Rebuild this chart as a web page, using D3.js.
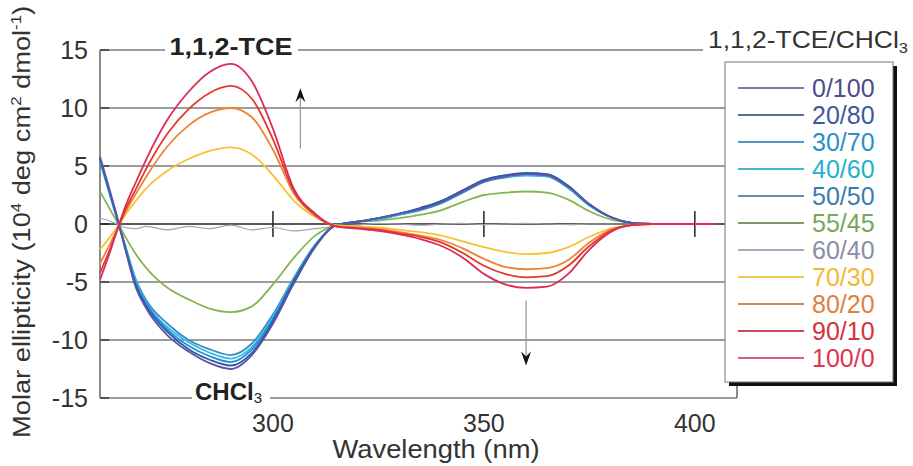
<!DOCTYPE html>
<html>
<head>
<meta charset="utf-8">
<script src="https://cdn.jsdelivr.net/npm/d3@7"></script>
<style>
  body { margin: 0; background: #fff; }
  svg { font-family: "Liberation Sans", Arial, Helvetica, sans-serif; }
</style>
</head>
<body>
<svg id="chart" width="913" height="466"></svg>
<script>
// wavelengths (nm)
const wavelengths = [259, 261, 263, 265, 267.5, 270, 275, 280, 285, 290, 295, 300, 305, 310, 315, 320, 325, 330,
  335, 340, 345, 350, 355, 360, 365, 370, 375, 380, 385, 390, 395, 400, 405];

// molar ellipticity (10^4 deg cm2 dmol-1), one list per 1,1,2-TCE/CHCl3 ratio
const s0_100  = [5.8, 3.3, 0.7, -2.2, -5.5, -7.3, -9.6, -11.0, -12.0, -12.5, -11.3, -8.6, -5.1, -2.0, -0.1, 0.2, 0.5, 0.9, 1.3, 1.9, 2.8, 3.7, 4.1, 4.3, 4.2, 3.2, 1.7, 0.6, 0.1, 0, 0, 0, 0];
const s20_80  = [5.7, 3.2, 0.6, -2.1, -5.3, -7.1, -9.3, -10.8, -11.7, -12.2, -11.1, -8.4, -4.9, -1.9, -0.1, 0.2, 0.5, 0.9, 1.4, 2.0, 2.9, 3.8, 4.2, 4.4, 4.3, 3.3, 1.7, 0.6, 0.1, 0, 0, 0, 0];
const s30_70  = [5.6, 3.1, 0.6, -2.0, -5.1, -6.9, -9.1, -10.5, -11.4, -11.9, -10.8, -8.2, -4.8, -1.9, -0.1, 0.2, 0.5, 0.9, 1.3, 2.0, 2.9, 3.7, 4.2, 4.3, 4.2, 3.2, 1.7, 0.6, 0.1, 0, 0, 0, 0];
const s40_60  = [5.5, 3.0, 0.5, -1.9, -4.9, -6.8, -8.9, -10.2, -11.1, -11.6, -10.6, -8.0, -4.7, -1.8, -0.1, 0.2, 0.4, 0.8, 1.3, 1.9, 2.8, 3.7, 4.1, 4.2, 4.1, 3.1, 1.6, 0.6, 0.1, 0, 0, 0, 0];
const s50_50  = [5.4, 2.9, 0.5, -1.9, -4.8, -6.6, -8.6, -10.0, -10.8, -11.3, -10.3, -7.8, -4.6, -1.8, -0.1, 0.2, 0.4, 0.8, 1.2, 1.8, 2.7, 3.6, 4.0, 4.2, 4.1, 3.1, 1.6, 0.6, 0.1, 0, 0, 0, 0];
const s55_45  = [2.8, 1.5, 0.2, -1.1, -2.6, -3.8, -5.5, -6.5, -7.3, -7.6, -7.1, -5.2, -2.9, -1.0, -0.1, 0.2, 0.3, 0.5, 0.8, 1.2, 1.9, 2.5, 2.7, 2.8, 2.7, 2.1, 1.1, 0.4, 0.1, 0, 0, 0, 0];
const s60_40  = [0.5, 0.3, 0.0, -0.3, -0.4, -0.2, -0.5, -0.2, -0.4, -0.1, -0.5, -0.3, -0.6, -0.4, -0.2, -0.1, 0.05, 0.0, -0.1, 0.0, 0.05, -0.05, 0.0, 0.05, 0.0, -0.05, 0.0, 0.0, 0, 0, 0, 0, 0];
const s70_30  = [-2.2, -1.3, -0.3, 0.8, 2.0, 3.1, 4.6, 5.6, 6.3, 6.6, 6.0, 4.2, 2.0, 0.6, -0.1, -0.2, -0.3, -0.5, -0.7, -1.0, -1.5, -2.0, -2.4, -2.6, -2.5, -2.0, -1.1, -0.4, -0.1, 0, 0, 0, 0];
const s80_20  = [-3.4, -2.0, -0.5, 1.0, 2.6, 4.1, 6.7, 8.5, 9.6, 10.0, 9.2, 6.4, 2.6, 0.7, -0.2, -0.3, -0.45, -0.7, -1.0, -1.4, -2.1, -3.0, -3.7, -3.9, -3.8, -3.1, -1.6, -0.5, -0.1, 0, 0, 0, 0];
const s90_10  = [-4.2, -2.5, -0.6, 1.2, 3.0, 4.8, 7.8, 9.9, 11.3, 11.9, 10.8, 7.3, 2.8, 0.8, -0.2, -0.35, -0.5, -0.8, -1.1, -1.6, -2.5, -3.6, -4.3, -4.6, -4.5, -3.6, -1.9, -0.6, -0.1, 0, 0, 0, 0];
const s100_0  = [-4.8, -2.8, -0.6, 1.5, 3.6, 5.6, 9.0, 11.4, 13.1, 13.8, 12.3, 8.2, 3.0, 0.9, -0.2, -0.4, -0.6, -0.9, -1.3, -1.9, -2.9, -4.3, -5.2, -5.5, -5.4, -4.3, -2.2, -0.7, -0.1, 0, 0, 0, 0];

const ratios = ['0/100', '20/80', '30/70', '40/60', '50/50', '55/45', '60/40', '70/30', '80/20', '90/10', '100/0'];
const seriesValues = [s0_100, s20_80, s30_70, s40_60, s50_50, s55_45, s60_40, s70_30, s80_20, s90_10, s100_0];

const lineColors = ['#5b55a6', '#2f56a8', '#1f8fd2', '#35bde3', '#3b8cc8', '#86b552', '#a3a4b2', '#f6c232', '#ec8434', '#e2392f', '#de2d55'];
const legendLineColors = ['#7d7a9c', '#5a6c9a', '#4f9bc8', '#45b3d6', '#6f8aa6', '#7f9a6a', '#a6a6bd', '#efc85a', '#c98a66', '#c9485a', '#d9607a'];
const textColors = ['#4c4c8e', '#3c5a9a', '#2b90c6', '#22b2cf', '#3a7cb2', '#74a858', '#8a8ea6', '#f1b933', '#e0813d', '#d4323a', '#e03552'];

const yTicks = [-15, -10, -5, 0, 5, 10, 15];
const xTicks = [300, 350, 400];

const svg = d3.select('#chart');
const x = d3.scaleLinear().domain([259, 410]).range([100, 737]);
const y = d3.scaleLinear().domain([-15, 15]).range([398, 50]);

// gridlines
const grid = svg.append('g').attr('class', 'grid');
grid.selectAll('line')
    .data(yTicks.filter(d => d !== 0))
    .join('line')
    .attr('x1', x.range()[0]).attr('x2', d => d === 15 ? 703 : x.range()[1])
    .attr('y1', d => y(d)).attr('y2', d => y(d))
    .attr('stroke', '#9c9c9c').attr('stroke-width', 2);

// short dark ticks along the left axis
grid.selectAll('line.tk')
    .data(yTicks)
    .join('line').attr('class', 'tk')
    .attr('x1', 100).attr('x2', 109)
    .attr('y1', d => y(d)).attr('y2', d => y(d))
    .attr('stroke', '#555').attr('stroke-width', 2);

// left axis line
svg.append('line')
    .attr('x1', 100).attr('x2', 100).attr('y1', y(15)).attr('y2', y(-15))
    .attr('stroke', '#666').attr('stroke-width', 1.5);

// zero line with ticks at the wavelength labels
svg.append('line')
    .attr('x1', 100).attr('x2', x.range()[1]).attr('y1', y(0)).attr('y2', y(0))
    .attr('stroke', '#222').attr('stroke-width', 1.3);
svg.append('g').selectAll('line')
    .data(xTicks)
    .join('line')
    .attr('x1', d => x(d)).attr('x2', d => x(d))
    .attr('y1', y(0) - 13).attr('y2', y(0) + 13)
    .attr('stroke', '#222').attr('stroke-width', 1.5);

// right edge bracket below legend
svg.append('line')
    .attr('x1', 737).attr('x2', 737).attr('y1', 382).attr('y2', y(-15))
    .attr('stroke', '#666').attr('stroke-width', 1.5);

// tick labels
svg.append('g').selectAll('text')
    .data(yTicks)
    .join('text')
    .attr('x', 88).attr('y', d => y(d)).attr('dy', '0.36em')
    .attr('text-anchor', 'end')
    .attr('font-size', 25).attr('fill', '#333')
    .text(d => d);

svg.append('g').selectAll('text')
    .data(xTicks)
    .join('text')
    .attr('x', d => x(d)).attr('y', 432)
    .attr('text-anchor', 'middle')
    .attr('font-size', 25).attr('fill', '#333')
    .text(d => d);

// axis titles
svg.append('text')
    .attr('x', 436).attr('y', 458)
    .attr('text-anchor', 'middle')
    .attr('font-size', 25).attr('fill', '#333')
    .attr('textLength', 207).attr('lengthAdjust', 'spacingAndGlyphs')
    .text('Wavelength (nm)');

const yTitle = svg.append('text')
    .attr('transform', 'translate(30,222) rotate(-90)')
    .attr('text-anchor', 'middle')
    .attr('font-size', 23).attr('fill', '#333')
    .attr('textLength', 432).attr('lengthAdjust', 'spacingAndGlyphs');
yTitle.append('tspan').text('Molar ellipticity  (10');
yTitle.append('tspan').attr('dy', -9).attr('font-size', 14).text('4');
yTitle.append('tspan').attr('dy', 9).text(' deg cm');
yTitle.append('tspan').attr('dy', -9).attr('font-size', 14).text('2');
yTitle.append('tspan').attr('dy', 9).text(' dmol');
yTitle.append('tspan').attr('dy', -9).attr('font-size', 14).text('-1');
yTitle.append('tspan').attr('dy', 9).text(')');

// spectra
const line = d3.line()
    .x((d, i) => x(wavelengths[i]))
    .y(d => y(d))
    .curve(d3.curveMonotoneX);

const drawOrder = [6, 5, 4, 3, 2, 1, 0, 7, 8, 9, 10];
svg.append('g').selectAll('path')
    .data(drawOrder)
    .join('path')
    .attr('d', k => line(seriesValues[k]))
    .attr('fill', 'none')
    .attr('stroke', k => lineColors[k])
    .attr('stroke-width', k => k === 6 ? 1.2 : 1.8);

// solvent labels over top / bottom gridlines
svg.append('rect').attr('x', 165).attr('y', 36).attr('width', 133).attr('height', 22).attr('fill', '#fff');
svg.append('text')
    .attr('x', 231).attr('y', 55)
    .attr('text-anchor', 'middle')
    .attr('font-size', 23).attr('font-weight', 'bold').attr('fill', '#222')
    .attr('textLength', 123).attr('lengthAdjust', 'spacingAndGlyphs')
    .text('1,1,2-TCE');

svg.append('rect').attr('x', 192).attr('y', 388).attr('width', 78).attr('height', 18).attr('fill', '#fff');
const chcl = svg.append('text')
    .attr('x', 195).attr('y', 400)
    .attr('font-size', 24).attr('font-weight', 'bold').attr('fill', '#222');
chcl.append('tspan').text('CHCl');
chcl.append('tspan').attr('dy', 3).attr('font-size', 15).attr('font-weight', 'normal').text('3');

// arrows (change with increasing 1,1,2-TCE fraction)
const arrowUp = {wl: 306.5, from: 6.5, to: 11.7};
const arrowDown = {wl: 360, from: -6.6, to: -12.2};
[arrowUp, arrowDown].forEach(a => {
    const ax = x(a.wl), y0 = y(a.from), y1 = y(a.to), dir = y1 < y0 ? 1 : -1;
    svg.append('line')
        .attr('x1', ax).attr('x2', ax).attr('y1', y0).attr('y2', y1 + dir * 6)
        .attr('stroke', '#9a9a9a').attr('stroke-width', 1.3);
    svg.append('path')
        .attr('d', `M${ax},${y1} L${ax - 5},${y1 + dir * 14} L${ax},${y1 + dir * 9} L${ax + 5},${y1 + dir * 14} Z`)
        .attr('fill', '#111');
});

// legend
svg.append('rect').attr('x', 705).attr('y', 28).attr('width', 210).attr('height', 24).attr('fill', '#fff');
const lt = svg.append('text')
    .attr('x', 708).attr('y', 48)
    .attr('font-size', 24).attr('fill', '#333')
    .attr('textLength', 200).attr('lengthAdjust', 'spacingAndGlyphs');
lt.append('tspan').text('1,1,2-TCE/CHCl');
lt.append('tspan').attr('dy', 5).attr('font-size', 15).text('3');

const lg = svg.append('g');
lg.append('rect').attr('x', 729).attr('y', 66).attr('width', 168).attr('height', 320).attr('fill', '#111');
lg.append('rect').attr('x', 725).attr('y', 62).attr('width', 168).attr('height', 320)
    .attr('fill', '#fff').attr('stroke', '#777').attr('stroke-width', 1);

const rowY = i => 88 + i * 27;
lg.selectAll('line')
    .data(ratios)
    .join('line')
    .attr('x1', 738).attr('x2', 804)
    .attr('y1', (d, i) => rowY(i)).attr('y2', (d, i) => rowY(i))
    .attr('stroke', (d, i) => legendLineColors[i]).attr('stroke-width', 2);
lg.selectAll('text')
    .data(ratios)
    .join('text')
    .attr('x', 812).attr('y', (d, i) => rowY(i)).attr('dy', '0.36em')
    .attr('font-size', 25).attr('fill', (d, i) => textColors[i])
    .text(d => d);
</script>
